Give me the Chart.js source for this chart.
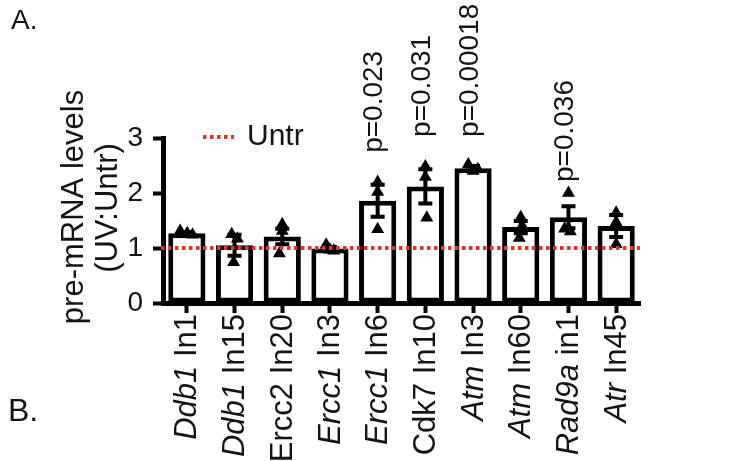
<!DOCTYPE html>
<html>
<head>
<meta charset="utf-8">
<script src="https://cdn.jsdelivr.net/npm/chart.js@4.4.1/dist/chart.umd.min.js"></script>
<style>
  html, body { margin: 0; padding: 0; background: #fff; }
  #wrap { width: 733px; height: 461px; }
</style>
</head>
<body>
<div id="wrap"><canvas id="chart" width="733" height="461"></canvas></div>
<script>
// values (UV:Untr ratio per intron)
const genes = ["Ddb1", "Ddb1", "Ercc2", "Ercc1", "Ercc1", "Cdk7", "Atm", "Atm", "Rad9a", "Atr"];
const introns = ["In1", "In15", "In20", "In3", "In6", "In10", "In3", "In60", "in1", "In45"];
const geneItalic = [true, true, false, true, true, false, true, true, true, true];
const meanLevels = [1.27, 1.05, 1.21, 0.99, 1.86, 2.12, 2.45, 1.38, 1.56, 1.40];
const semLevels = [0.02, 0.19, 0.14, 0.03, 0.29, 0.31, 0.04, 0.11, 0.20, 0.20];
const replicates = [
  [1.31, 1.27, 1.24],
  [1.25, 1.17, 0.74],
  [1.43, 1.31, 0.90],
  [1.06, 0.97, 0.95],
  [2.20, 2.02, 1.34],
  [2.48, 2.29, 1.55],
  [2.52, 2.43, 2.40],
  [1.56, 1.40, 1.18],
  [2.00, 1.35, 1.30],
  [1.64, 1.47, 1.07],
];
const jitter = [
  [-0.14, 0.01, 0.12],
  [-0.06, 0.06, -0.02],
  [0, 0, -0.06],
  [-0.08, 0.0, 0.08],
  [0, 0, 0],
  [0, 0, 0.03],
  [-0.1, 0.1, 0],
  [0, 0.03, -0.03],
  [0, -0.08, 0.04],
  [0, 0, 0],
];
const pValues = ["", "", "", "", "p=0.023", "p=0.031", "p=0.00018", "", "p=0.036", ""];
const pValueAt = [null, null, null, null, 2.73, 3.02, 3.02, null, 2.2, null];
const yTicks = [0, 1, 2, 3];
const untrLevel = 1;

const INK = "#141414";
const RED = "#e3342b";
const FONT = "'Liberation Sans', Arial, sans-serif";

const points = [];
replicates.forEach((vals, i) => {
  vals.forEach((v, k) => points.push({ x: i + jitter[i][k], y: v }));
});

const decor = {
  id: "decor",
  afterDatasetDraw(chart, args) {
    if (args.index !== 0) return;
    // SEM error bars, drawn under the replicate points
    const ctx = chart.ctx;
    const xs = chart.scales.x;
    const ys = chart.scales.y;
    ctx.save();
    ctx.strokeStyle = "#000";
    ctx.lineWidth = 4;
    meanLevels.forEach((m, i) => {
      const x = xs.getPixelForValue(i);
      const yt = ys.getPixelForValue(m + semLevels[i]);
      const yb = ys.getPixelForValue(m - semLevels[i]);
      ctx.beginPath();
      ctx.moveTo(x, yt);
      ctx.lineTo(x, yb);
      ctx.moveTo(x - 7, yt);
      ctx.lineTo(x + 7, yt);
      ctx.moveTo(x - 7, yb);
      ctx.lineTo(x + 7, yb);
      ctx.stroke();
    });
    ctx.restore();
  },
  afterDatasetsDraw(chart) {
    const ctx = chart.ctx;
    const area = chart.chartArea;
    const y = chart.scales.y.getPixelForValue(untrLevel);
    ctx.save();
    ctx.strokeStyle = RED;
    ctx.lineWidth = 4;
    ctx.setLineDash([3.5, 3.5]);
    ctx.beginPath();
    ctx.moveTo(area.left - 2, y);
    ctx.lineTo(area.right, y);
    ctx.stroke();
    ctx.restore();
  },
  afterDraw(chart) {
    const ctx = chart.ctx;
    const xs = chart.scales.x;
    const ys = chart.scales.y;
    ctx.save();
    ctx.fillStyle = INK;

    // category labels, gene name italic
    genes.forEach((g, i) => {
      const x = xs.getPixelForValue(i);
      ctx.save();
      ctx.translate(x + 1, 314);
      ctx.rotate(-Math.PI / 2);
      ctx.textBaseline = "middle";
      ctx.textAlign = "right";
      ctx.font = `31px ${FONT}`;
      const tail = " " + introns[i];
      ctx.fillText(tail, 0, 0);
      const w = ctx.measureText(tail).width;
      ctx.font = `${geneItalic[i] ? "italic " : ""}31px ${FONT}`;
      ctx.fillText(g, -w, 0);
      ctx.restore();
    });

    // p-values above bars
    pValues.forEach((p, i) => {
      if (!p) return;
      ctx.save();
      ctx.translate(xs.getPixelForValue(i) - 3, ys.getPixelForValue(pValueAt[i]));
      ctx.rotate(-Math.PI / 2);
      ctx.textBaseline = "middle";
      ctx.textAlign = "left";
      ctx.font = `28px ${FONT}`;
      ctx.fillText(p, 0, 0);
      ctx.restore();
    });

    // y title
    ctx.font = `31px ${FONT}`;
    ctx.textAlign = "center";
    ctx.textBaseline = "middle";
    [["pre-mRNA levels", 74, 207], ["(UV:Untr)", 108, 208]].forEach(([t, x, y]) => {
      ctx.save();
      ctx.translate(x, y);
      ctx.rotate(-Math.PI / 2);
      ctx.fillText(t, 0, 0);
      ctx.restore();
    });

    // legend
    ctx.save();
    ctx.strokeStyle = RED;
    ctx.lineWidth = 4;
    ctx.setLineDash([3.5, 3.5]);
    ctx.beginPath();
    ctx.moveTo(203, 137);
    ctx.lineTo(234, 137);
    ctx.stroke();
    ctx.restore();
    ctx.font = `30px ${FONT}`;
    ctx.textAlign = "left";
    ctx.fillText("Untr", 247, 137);

    // panel letters
    ctx.textBaseline = "alphabetic";
    ctx.font = `28px ${FONT}`;
    ctx.fillText("A.", 11, 29);
    ctx.font = `32px ${FONT}`;
    ctx.fillText("B.", 8, 421);
    ctx.restore();
  },
};

new Chart(document.getElementById("chart"), {
  type: "bar",
  data: {
    labels: genes.map((g, i) => g + " " + introns[i]),
    datasets: [
      {
        data: meanLevels,
        backgroundColor: "#fff",
        borderColor: "#000",
        borderWidth: 5,
        borderSkipped: false,
        grouped: false,
        categoryPercentage: 1,
        barPercentage: 0.78,
        xAxisID: "x",
        yAxisID: "y",
        order: 1,
      },
      {
        type: "scatter",
        data: points,
        xAxisID: "xPts",
        yAxisID: "y",
        pointStyle: "triangle",
        pointRadius: 7.5,
        backgroundColor: "#000",
        borderColor: "#000",
        borderWidth: 0,
        order: 0,
      },
    ],
  },
  options: {
    responsive: false,
    animation: false,
    devicePixelRatio: 1,
    layout: { padding: { top: 138, right: 93, left: 0, bottom: 0 } },
    plugins: { legend: { display: false }, tooltip: { enabled: false } },
    scales: {
      x: {
        offset: true,
        ticks: { display: false },
        grid: { offset: false, drawOnChartArea: false, tickLength: 10, tickWidth: 4, tickColor: "#000" },
        border: { width: 5, color: "#000" },
        afterFit(s) { s.height = 158; },
      },
      xPts: { type: "linear", display: false, offset: false, min: -0.5, max: 9.5 },
      y: {
        min: 0,
        max: 3,
        afterBuildTicks(s) { s.ticks = yTicks.map((v) => ({ value: v })); },
        ticks: { color: INK, padding: 10, font: { family: FONT, size: 28 } },
        grid: { drawOnChartArea: false, tickLength: 10, tickWidth: 4, tickColor: "#000" },
        border: { width: 5, color: "#000" },
        afterFit(s) { s.width = 163; },
      },
    },
  },
  plugins: [decor],
});
</script>
</body>
</html>
